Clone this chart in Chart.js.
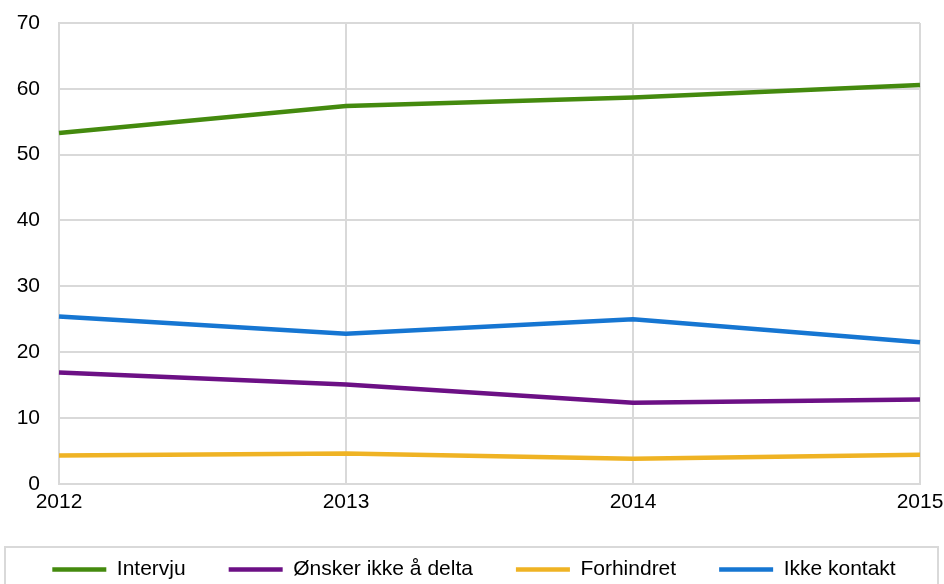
<!DOCTYPE html>
<html><head><meta charset="utf-8">
<script src="https://cdn.jsdelivr.net/npm/chart.js@4"></script>
<style>html,body{margin:0;padding:0;background:#fff;}#wrap{width:944px;height:584px;position:relative;}</style>
</head><body><div id="wrap"><canvas id="c" width="944" height="584"></canvas></div>
<script>
const years = ['2012','2013','2014','2015'];
const intervju = [53.3, 57.4, 58.7, 60.6];
const onsker = [16.9, 15.1, 12.3, 12.8];
const forhindret = [4.3, 4.6, 3.8, 4.4];
const ikkeKontakt = [25.4, 22.8, 25.0, 21.5];
const seriesNames = ['Intervju','Ønsker ikke å delta','Forhindret','Ikke kontakt'];
const yTicks = [0,10,20,30,40,50,60,70];

const colors = ['#448a0e','#6c1085','#efb324','#1676d2'];
const dataArr = [intervju, onsker, forhindret, ikkeKontakt];

const legendBox = {
  id:'legendBox',
  afterLayout(chart){
    chart.legend.left += 2; chart.legend.right += 2;
  },
  afterDraw(chart){
    const ctx = chart.ctx;
    ctx.save(); ctx.strokeStyle='#d9d9d9'; ctx.lineWidth=2;
    ctx.strokeRect(5, 547, 933, 60);
    ctx.restore();
  }
};

new Chart(document.getElementById('c'), {
  type:'line',
  data:{ labels: years, datasets: dataArr.map((d,i)=>({
    label: seriesNames[i], data: d, borderColor: colors[i], backgroundColor: colors[i],
    borderWidth: 4.5, pointRadius: 0, tension: 0, fill:false
  }))},
  options:{
    responsive:false, animation:false,
    layout:{padding:{left:0,right:0,top:23,bottom:-6}},
    scales:{
      x:{ afterFit(s){ s.height -= 5; s.paddingRight = 24; },
          grid:{color:'#d9d9d9', lineWidth:2, drawTicks:false}, border:{color:'#d9d9d9', width:2},
          ticks:{font:{family:'Liberation Sans', size:21}, color:'#000', padding:6, maxRotation:0, autoSkip:false}},
      y:{ min:0, max:70, afterBuildTicks(s){ s.ticks = yTicks.map(v=>({value:v})); },
          afterFit(s){ s.width = 59; s.paddingTop = 0; },
          grid:{color:'#d9d9d9', lineWidth:2, drawTicks:false}, border:{color:'#d9d9d9', width:2},
          ticks:{font:{family:'Liberation Sans', size:21}, color:'#000', padding:19}}
    },
    plugins:{
      legend:{ position:'bottom',
        labels:{ usePointStyle:true, pointStyle:'line', pointStyleWidth:54, boxHeight:21,
          font:{family:'Liberation Sans', size:21}, color:'#000', padding:43 } },
      tooltip:{enabled:false}
    }
  },
  plugins:[legendBox]
});
</script></body></html>
